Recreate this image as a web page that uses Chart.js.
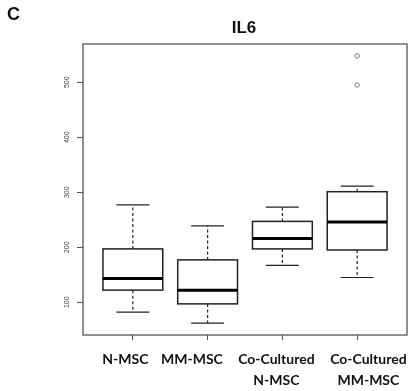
<!DOCTYPE html>
<html>
<head>
<meta charset="utf-8">
<script src="https://cdn.jsdelivr.net/npm/chart.js@4.4.1/dist/chart.umd.min.js"></script>
<style>
  html, body { margin: 0; padding: 0; background: #fff; }
</style>
</head>
<body>
<canvas id="c" width="416" height="391"></canvas>
<script>
// IL6 boxplot data
const categories = [["N-MSC"], ["MM-MSC"], ["Co-Cultured", "N-MSC"], ["Co-Cultured", "MM-MSC"]];
const mins    = [82, 62, 167, 145];
const q1s     = [122, 97, 197, 195];
const medians = [143, 122, 216, 246];
const q3s     = [197, 177, 247, 301];
const maxs    = [277, 239, 273, 311];
const outliers = [[], [], [], [495, 548]];
const yTicks = [100, 200, 300, 400, 500];

const outlierPoints = [];
outliers.forEach((vals, i) => vals.forEach(v => outlierPoints.push({ x: i + 1, y: v })));

// the labels in the figure sit a bit off their ticks
const labelShift = [-0.1, -0.21, -0.08, 0.15];
const boxWidth = 0.8;   // in category units
const capWidth = 0.44;

const boxPlugin = {
  id: 'boxes',
  beforeDatasetsDraw(chart) {
    const ctx = chart.ctx;
    const xs = chart.scales.x, ys = chart.scales.y;
    ctx.save();
    categories.forEach((c, i) => {
      const cx = xs.getPixelForValue(i + 1);
      const half = xs.getPixelForValue(i + 1 + boxWidth / 2) - cx;
      const capHalf = xs.getPixelForValue(i + 1 + capWidth / 2) - cx;
      const yMin = ys.getPixelForValue(mins[i]);
      const yQ1 = ys.getPixelForValue(q1s[i]);
      const yMed = ys.getPixelForValue(medians[i]);
      const yQ3 = ys.getPixelForValue(q3s[i]);
      const yMax = ys.getPixelForValue(maxs[i]);

      // whiskers (dashed)
      ctx.strokeStyle = '#222';
      ctx.lineWidth = 1.2;
      ctx.setLineDash([3, 2.5]);
      ctx.beginPath();
      ctx.moveTo(cx, yQ3); ctx.lineTo(cx, yMax);
      ctx.moveTo(cx, yQ1); ctx.lineTo(cx, yMin);
      ctx.stroke();
      ctx.setLineDash([]);

      // caps
      ctx.beginPath();
      ctx.moveTo(cx - capHalf, yMax); ctx.lineTo(cx + capHalf, yMax);
      ctx.moveTo(cx - capHalf, yMin); ctx.lineTo(cx + capHalf, yMin);
      ctx.stroke();

      // box
      ctx.lineWidth = 1.5;
      ctx.fillStyle = '#fff';
      ctx.fillRect(cx - half, yQ3, half * 2, yQ1 - yQ3);
      ctx.strokeRect(cx - half, yQ3, half * 2, yQ1 - yQ3);

      // median
      ctx.lineWidth = 3;
      ctx.strokeStyle = '#000';
      ctx.beginPath();
      ctx.moveTo(cx - half, yMed); ctx.lineTo(cx + half, yMed);
      ctx.stroke();
    });
    ctx.restore();
  },
  afterDraw(chart) {
    const ctx = chart.ctx;
    const a = chart.chartArea;
    ctx.save();
    // plot frame
    ctx.strokeStyle = '#555';
    ctx.lineWidth = 1.3;
    ctx.strokeRect(a.left, a.top, a.right - a.left, a.bottom - a.top);
    // title and panel letter
    ctx.fillStyle = '#111';
    ctx.textBaseline = 'middle';
    ctx.textAlign = 'center';
    ctx.font = 'bold 17px "Liberation Sans", Arial, sans-serif';
    ctx.fillText('IL6', (a.left + a.right) / 2 - 1, 28);
    ctx.textAlign = 'left';
    ctx.font = 'bold 18px "Liberation Sans", Arial, sans-serif';
    ctx.fillText('C', 7, 15);
    ctx.restore();
  }
};

new Chart(document.getElementById('c'), {
  type: 'scatter',
  data: {
    datasets: [{
      data: outlierPoints,
      pointRadius: 2.2,
      pointBorderWidth: 1,
      borderColor: '#777',
      backgroundColor: 'rgba(0,0,0,0)'
    }]
  },
  options: {
    responsive: false,
    animation: false,
    layout: { padding: { top: 44, right: 9, left: 0, bottom: 0 } },
    plugins: { legend: { display: false }, tooltip: { enabled: false } },
    scales: {
      x: {
        type: 'linear',
        position: 'bottom',
        min: 1 / 3,
        max: 14 / 3,
        afterBuildTicks: s => { s.ticks = categories.map((c, i) => ({ value: i + 1 })); },
        afterFit: s => { s.height = 6; },
        border: { display: false },
        grid: { drawOnChartArea: false, drawTicks: true, tickLength: 5, color: '#555' },
        ticks: { display: false }
      },
      xLabels: {
        type: 'linear',
        position: 'bottom',
        min: 1 / 3,
        max: 14 / 3,
        afterBuildTicks: s => { s.ticks = categories.map((c, i) => ({ value: i + 1 + labelShift[i] })); },
        afterFit: s => { s.height = 50; },
        border: { display: false },
        grid: { display: false },
        ticks: {
          callback: (v, idx) => categories[idx],
          autoSkip: false,
          maxRotation: 0,
          padding: 0,
          color: '#111',
          font: { family: 'Lato, "Open Sans", sans-serif', size: 14, weight: 'bold', lineHeight: 1.5 }
        }
      },
      y: {
        min: 40.4,
        max: 569.6,
        afterBuildTicks: s => { s.ticks = yTicks.map(v => ({ value: v })); },
        afterFit: s => { s.width = 83; },
        border: { display: false },
        grid: { drawOnChartArea: false, drawTicks: true, tickLength: 6, color: '#555' },
        ticks: {
          minRotation: 90,
          maxRotation: 90,
          crossAlign: 'center',
          padding: 4,
          color: '#444',
          font: { family: '"Liberation Sans", Arial, sans-serif', size: 7 }
        }
      }
    }
  },
  plugins: [boxPlugin]
});
</script>
</body>
</html>
